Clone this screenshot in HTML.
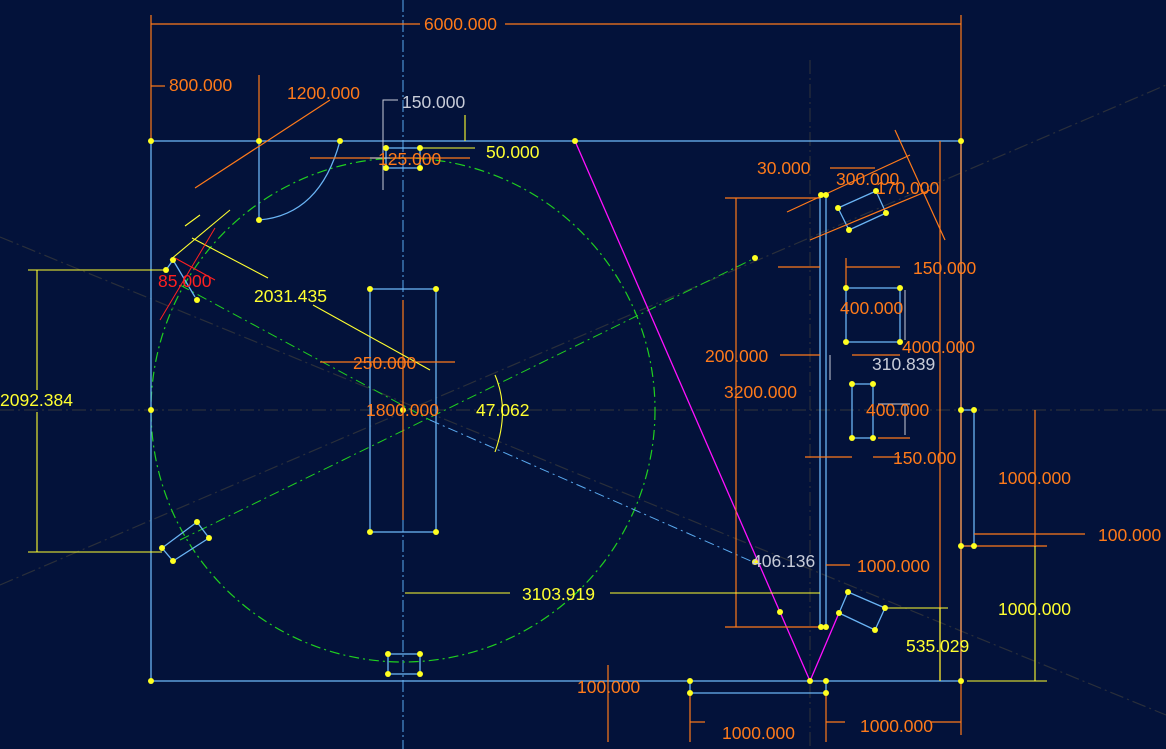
<!DOCTYPE html>
<html><head><meta charset="utf-8"><style>
html,body{margin:0;padding:0;background:#03123a;}
svg{display:block}
text{font-family:"Liberation Sans",sans-serif;font-size:17.5px}
.o{fill:#ff7a1a}.y{fill:#ffff30}.g{fill:#c8ccd8}.r{fill:#ff2020}
</style></head><body>
<svg width="1166" height="749" viewBox="0 0 1166 749" xmlns="http://www.w3.org/2000/svg">
<rect width="1166" height="749" fill="#03123a"/>
<g stroke="#2a2f3a" stroke-width="1.2" stroke-dasharray="14,4,2,4" fill="none">
<line x1="0" y1="237" x2="1166" y2="715"/>
<line x1="0" y1="585" x2="1166" y2="85"/>
<line x1="0" y1="410" x2="1166" y2="410"/>
<line x1="810" y1="60" x2="810" y2="749"/>
</g>
<line x1="403" y1="0" x2="403" y2="749" stroke="#5aaaf0" stroke-width="1" stroke-dasharray="12,3,2,3"/>
<circle cx="403" cy="410" r="252" fill="none" stroke="#20d020" stroke-width="1.2" stroke-dasharray="10,4,2,4"/>
<g stroke="#20d020" stroke-width="1" stroke-dasharray="10,4,2,4" fill="none">
<line x1="180" y1="540" x2="755" y2="258"/>
<line x1="180" y1="285" x2="430" y2="420"/>
</g>
<line x1="430" y1="420" x2="760" y2="565" stroke="#5aaaf0" stroke-dasharray="10,4,2,4"/>
<g stroke="#6ab4f4" stroke-width="1.3" fill="none">
<rect x="151" y="141" width="810" height="540"/>
<line x1="961" y1="141" x2="961" y2="681"/>
<polyline points="961,410 974,410 974,546 961,546"/>
<rect x="370" y="289" width="66" height="243"/>
<rect x="386" y="148" width="34" height="20"/>
<rect x="388" y="654" width="32" height="20"/>
<path d="M259,141 L259,220 Q320,215 340,141"/>
<line x1="820" y1="195" x2="820" y2="627"/>
<line x1="826" y1="195" x2="826" y2="627"/>
<rect x="846" y="288" width="54" height="54"/>
<rect x="852" y="384" width="21" height="54"/>
<polyline points="690,681 690,693 826,693 826,681"/>
<polygon points="838,208 876,191 886,213 849,230"/>
<polygon points="848,592 885,608 875,630 839,613"/>
<polygon points="162,548 197,522 209,538 173,561"/>
<polyline points="166,270 173,260 195,297"/>
</g>
<polyline points="575,141 810,681 839,613" fill="none" stroke="#ff10ff" stroke-width="1.3"/>
<g stroke="#ff7a1a" stroke-width="1.2" fill="none">
<line x1="151" y1="15" x2="151" y2="141"/><line x1="961" y1="15" x2="961" y2="735"/>
<line x1="151" y1="24" x2="420" y2="24"/><line x1="505" y1="24" x2="961" y2="24"/>
<line x1="259" y1="75" x2="259" y2="141"/><line x1="151" y1="86" x2="165" y2="86"/>
<line x1="195" y1="188" x2="330" y2="100"/>
<line x1="310" y1="158" x2="470" y2="158"/>
<line x1="403" y1="300" x2="403" y2="520"/>
<line x1="320" y1="362" x2="455" y2="362"/>
<line x1="736" y1="198" x2="736" y2="627"/><line x1="725" y1="198" x2="820" y2="198"/><line x1="725" y1="627" x2="820" y2="627"/>
<line x1="787" y1="212" x2="910" y2="155"/><line x1="810" y1="240" x2="930" y2="190"/>
<line x1="895" y1="130" x2="945" y2="240"/>
<line x1="830" y1="168" x2="875" y2="168"/>
<line x1="940" y1="141" x2="940" y2="681"/>
<line x1="778" y1="267" x2="820" y2="267"/><line x1="846" y1="267" x2="900" y2="267"/><line x1="846" y1="258" x2="846" y2="290"/>
<line x1="780" y1="355" x2="820" y2="355"/><line x1="852" y1="355" x2="900" y2="355"/>
<line x1="805" y1="457" x2="852" y2="457"/><line x1="873" y1="457" x2="900" y2="457"/>
<line x1="878" y1="438" x2="910" y2="438"/>
<line x1="826" y1="565" x2="850" y2="565"/>
<line x1="1035" y1="410" x2="1035" y2="546"/>
<line x1="974" y1="534" x2="1085" y2="534"/><line x1="961" y1="546" x2="1047" y2="546"/>
<line x1="608" y1="665" x2="608" y2="742"/>
<line x1="690" y1="693" x2="690" y2="742"/><line x1="826" y1="693" x2="826" y2="742"/>
<line x1="690" y1="722" x2="705" y2="722"/><line x1="826" y1="722" x2="845" y2="722"/>
<line x1="930" y1="722" x2="961" y2="722"/>
</g>
<g stroke="#ffff30" stroke-width="1.1" fill="none">
<line x1="28" y1="270" x2="166" y2="270"/><line x1="28" y1="552" x2="162" y2="552"/>
<line x1="37" y1="270" x2="37" y2="390"/><line x1="37" y1="412" x2="37" y2="552"/>
<line x1="192" y1="238" x2="268" y2="278"/><line x1="313" y1="305" x2="430" y2="370"/>
<line x1="185" y1="226" x2="200" y2="215"/><line x1="230" y1="210" x2="170" y2="260"/>
<line x1="465" y1="115" x2="465" y2="141"/><line x1="420" y1="148" x2="475" y2="148"/>
<line x1="405" y1="593" x2="510" y2="593"/><line x1="610" y1="593" x2="820" y2="593"/>
<line x1="885" y1="608" x2="948" y2="608"/><line x1="940" y1="608" x2="940" y2="681"/>
<line x1="1035" y1="546" x2="1035" y2="681"/><line x1="967" y1="681" x2="1047" y2="681"/>
<path d="M495,375 Q510,410 495,452"/>
</g>
<g stroke="#ff2020" stroke-width="1"><line x1="160" y1="320" x2="215" y2="228"/><line x1="175" y1="258" x2="215" y2="280"/></g>
<g stroke="#c8ccd8" stroke-width="1" fill="none">
<polyline points="398,100 383,100 383,190"/><line x1="370" y1="158" x2="390" y2="158"/>
<line x1="830" y1="355" x2="830" y2="380"/><line x1="905" y1="290" x2="905" y2="340"/>
<line x1="878" y1="404" x2="910" y2="404"/><line x1="905" y1="404" x2="905" y2="435"/>
</g>
<g fill="#ffff20">
<circle cx="151" cy="141" r="3"/><circle cx="259" cy="141" r="3"/><circle cx="340" cy="141" r="3"/><circle cx="259" cy="220" r="3"/>
<circle cx="386" cy="148" r="3"/><circle cx="420" cy="148" r="3"/><circle cx="386" cy="168" r="3"/><circle cx="420" cy="168" r="3"/>
<circle cx="575" cy="141" r="3"/><circle cx="961" cy="141" r="3"/><circle cx="151" cy="681" r="3"/><circle cx="961" cy="681" r="3"/>
<circle cx="370" cy="289" r="3"/><circle cx="436" cy="289" r="3"/><circle cx="370" cy="532" r="3"/><circle cx="436" cy="532" r="3"/>
<circle cx="388" cy="654" r="3"/><circle cx="420" cy="654" r="3"/><circle cx="388" cy="674" r="3"/><circle cx="420" cy="674" r="3"/>
<circle cx="810" cy="681" r="3"/><circle cx="826" cy="681" r="3"/><circle cx="690" cy="681" r="3"/><circle cx="690" cy="693" r="3"/><circle cx="826" cy="693" r="3"/>
<circle cx="821" cy="195" r="3"/><circle cx="826" cy="195" r="3"/><circle cx="821" cy="627" r="3"/><circle cx="826" cy="627" r="3"/>
<circle cx="846" cy="288" r="3"/><circle cx="900" cy="288" r="3"/><circle cx="846" cy="342" r="3"/><circle cx="900" cy="342" r="3"/>
<circle cx="852" cy="384" r="3"/><circle cx="873" cy="384" r="3"/><circle cx="852" cy="438" r="3"/><circle cx="873" cy="438" r="3"/>
<circle cx="838" cy="208" r="3"/><circle cx="876" cy="191" r="3"/><circle cx="886" cy="213" r="3"/><circle cx="849" cy="230" r="3"/>
<circle cx="848" cy="592" r="3"/><circle cx="885" cy="608" r="3"/><circle cx="875" cy="630" r="3"/><circle cx="839" cy="613" r="3"/>
<circle cx="162" cy="548" r="3"/><circle cx="197" cy="522" r="3"/><circle cx="209" cy="538" r="3"/><circle cx="173" cy="561" r="3"/>
<circle cx="166" cy="270" r="3"/><circle cx="173" cy="260" r="3"/><circle cx="197" cy="300" r="3"/>
<circle cx="961" cy="410" r="3"/><circle cx="974" cy="410" r="3"/><circle cx="961" cy="546" r="3"/><circle cx="974" cy="546" r="3"/>
<circle cx="780" cy="612" r="3"/><circle cx="755" cy="258" r="3"/><circle cx="755" cy="562" r="3"/><circle cx="403" cy="410" r="3"/><circle cx="151" cy="410" r="3"/>
</g>
<text x="424" y="30" class="o">6000.000</text>
<text x="169" y="91" class="o">800.000</text>
<text x="287" y="99" class="o">1200.000</text>
<text x="402" y="108" class="g">150.000</text>
<text x="486" y="158" class="y">50.000</text>
<text x="378" y="165" class="o">125.000</text>
<text x="158" y="287" class="r">85.000</text>
<text x="254" y="302" class="y">2031.435</text>
<text x="353" y="369" class="o">250.000</text>
<text x="366" y="416" class="o">1800.000</text>
<text x="476" y="416" class="y">47.062</text>
<text x="0" y="406" class="y">2092.384</text>
<text x="522" y="600" class="y">3103.919</text>
<text x="757" y="174" class="o">30.000</text>
<text x="836" y="185" class="o">300.000</text>
<text x="876" y="194" class="o">170.000</text>
<text x="913" y="274" class="o">150.000</text>
<text x="840" y="314" class="o">400.000</text>
<text x="902" y="353" class="o">4000.000</text>
<text x="872" y="370" class="g">310.839</text>
<text x="705" y="362" class="o">200.000</text>
<text x="724" y="398" class="o">3200.000</text>
<text x="866" y="416" class="o">400.000</text>
<text x="893" y="464" class="o">150.000</text>
<text x="998" y="484" class="o">1000.000</text>
<text x="1098" y="541" class="o">100.000</text>
<text x="752" y="567" class="g">406.136</text>
<text x="857" y="572" class="o">1000.000</text>
<text x="998" y="615" class="y">1000.000</text>
<text x="906" y="652" class="y">535.029</text>
<text x="577" y="693" class="o">100.000</text>
<text x="722" y="739" class="o">1000.000</text>
<text x="860" y="732" class="o">1000.000</text>
</svg>
</body></html>
